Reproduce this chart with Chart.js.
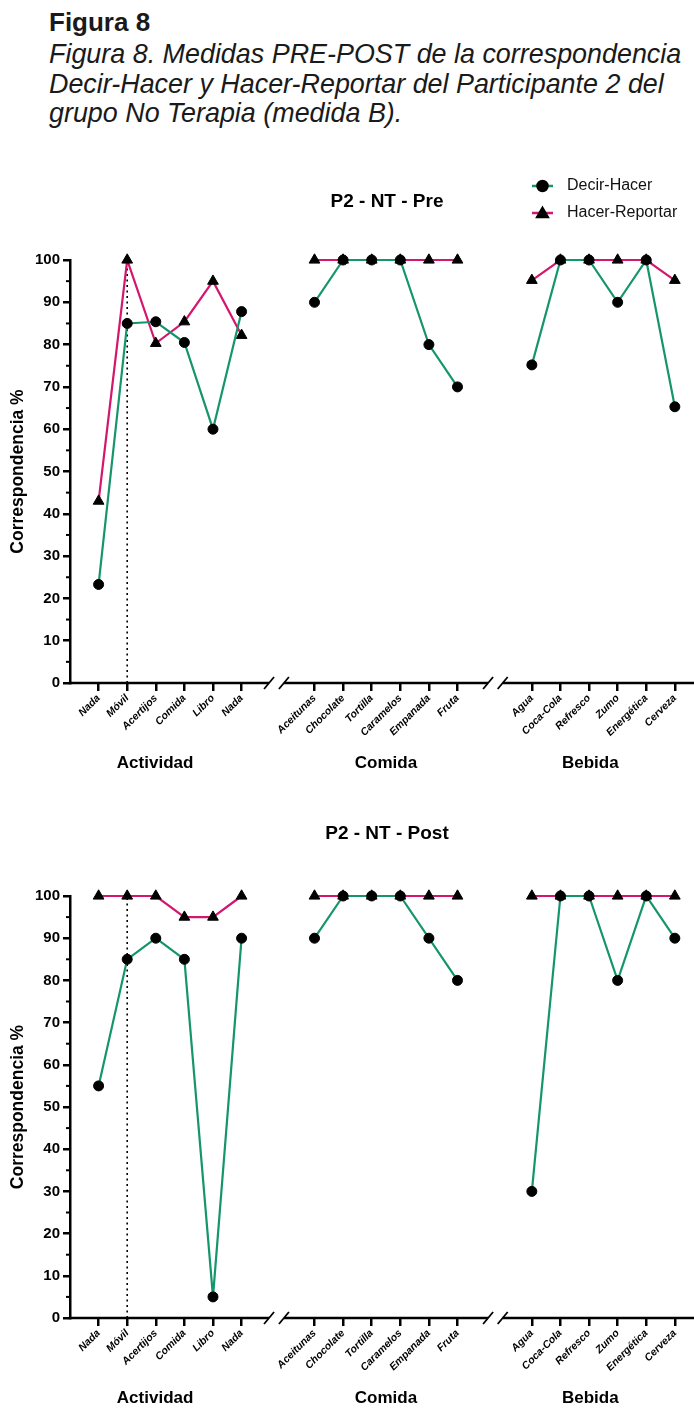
<!DOCTYPE html>
<html>
<head>
<meta charset="utf-8">
<script src="https://cdn.jsdelivr.net/npm/chart.js@4.4.1/dist/chart.umd.min.js"></script>
<style>
  body { margin: 0; background: #fff; width: 694px; height: 1409px; position: relative; overflow: hidden;
         font-family: "Liberation Sans", Arial, sans-serif; color: #1a1a1a; }
  #fig { position: absolute; left: 49px; top: 8px; font-weight: bold; font-size: 26px; line-height: 28px; }
  #cap { position: absolute; left: 49px; top: 40px; font-style: italic; font-size: 26.9px; line-height: 29.5px; white-space: nowrap; }
  canvas { position: absolute; left: 0; }
</style>
</head>
<body>
<div id="fig">Figura 8</div>
<div id="cap">Figura 8. Medidas PRE-POST de la correspondencia<br>Decir-Hacer y Hacer-Reportar del Participante 2 del<br>grupo No Terapia (medida B).</div>
<canvas id="pre" width="694" height="650" style="top:140px"></canvas>
<canvas id="post" width="694" height="619" style="top:790px"></canvas>

<script>
// categorias de cada grupo
const grupos = ['Actividad', 'Comida', 'Bebida'];
const actividad = ['Nada', 'Móvil', 'Acertijos', 'Comida', 'Libro', 'Nada'];
const comida = ['Aceitunas', 'Chocolate', 'Tortilla', 'Caramelos', 'Empanada', 'Fruta'];
const bebida = ['Agua', 'Coca-Cola', 'Refresco', 'Zumo', 'Energética', 'Cerveza'];
const categorias = actividad.concat(comida, bebida);

// valores (%)
const preDecir    = [23.3, 85, 85.4, 80.5, 60, 87.8,   90, 100, 100, 100, 80, 70,   75.2, 100, 100, 90, 100, 65.3];
const preReportar = [43, 100, 80.3, 85.4, 95, 82.2,    100, 100, 100, 100, 100, 100, 95.2, 100, 100, 100, 100, 95.2];
const postDecir    = [55, 85, 90, 85, 5, 90,           90, 100, 100, 100, 90, 80,   30, 100, 100, 80, 100, 90];
const postReportar = [100, 100, 100, 95, 95, 100,      100, 100, 100, 100, 100, 100, 100, 100, 100, 100, 100, 100];
const yTicks = [0, 10, 20, 30, 40, 50, 60, 70, 80, 90, 100];
const cambioFase = 'Móvil'; // linea punteada

const VERDE = '#15956c';
const ROSA = '#d3166e';
const FONT = '"Liberation Sans", Arial, sans-serif';

// inicio de cada grupo en el eje x (huecos para los cortes)
const inicioGrupo = [0, 7.55, 15.15];
const cortes = [[5.96, 6.48], [13.62, 14.13]];
const xPos = i => inicioGrupo[Math.floor(i / 6)] + i % 6;

function puntos(valores) {
  const pts = [];
  valores.forEach((v, i) => {
    if (i > 0 && i % 6 === 0) pts.push({ x: xPos(i) - 1.3, y: null });
    pts.push({ x: xPos(i), y: v });
  });
  return pts;
}

const panelPlugin = {
  id: 'panel',
  afterDraw(chart, args, opts) {
    const ctx = chart.ctx;
    const xs = chart.scales.x, ys = chart.scales.y;
    const area = chart.chartArea;
    const yb = area.bottom;
    ctx.save();
    ctx.strokeStyle = '#000';
    ctx.lineWidth = 2.5;
    // eje x en segmentos
    const limites = [area.left - 1.25].concat(...cortes.map(c => [xs.getPixelForValue(c[0]), xs.getPixelForValue(c[1])]), [area.right]);
    for (let k = 0; k < limites.length; k += 2) {
      ctx.beginPath(); ctx.moveTo(limites[k], yb); ctx.lineTo(limites[k + 1], yb); ctx.stroke();
    }
    ctx.lineWidth = 1.8;
    cortes.flat().forEach(c => {
      const px = xs.getPixelForValue(c);
      ctx.beginPath(); ctx.moveTo(px - 5, yb + 6); ctx.lineTo(px + 5, yb - 6); ctx.stroke();
    });
    // ticks menores del eje y
    ctx.lineWidth = 2;
    for (let v = 5; v < 100; v += 10) {
      const py = ys.getPixelForValue(v);
      ctx.beginPath(); ctx.moveTo(area.left - 4, py); ctx.lineTo(area.left, py); ctx.stroke();
    }
    // nombres de grupo
    ctx.fillStyle = '#000';
    ctx.textAlign = 'center';
    ctx.textBaseline = 'middle';
    ctx.font = 'bold 17px ' + FONT;
    const ajuste = [-15, 0, -13];
    grupos.forEach((g, k) => {
      const centro = xs.getPixelForValue(inicioGrupo[k] + 2.5) + ajuste[k];
      ctx.fillText(g, centro, yb + 80);
    });
    // titulo del panel
    ctx.font = 'bold 19px ' + FONT;
    ctx.fillText(opts.titulo, (area.left + area.right) / 2 + 5, area.top - opts.sepTitulo);
    // leyenda
    if (opts.leyenda) {
      const filas = [['Decir-Hacer', VERDE, 'circle', 5], ['Hacer-Reportar', ROSA, 'triangle', 6]];
      filas.forEach((f, k) => {
        const y = 46 + k * 27;
        ctx.strokeStyle = f[1]; ctx.lineWidth = 2.5;
        ctx.beginPath(); ctx.moveTo(532, y); ctx.lineTo(553, y); ctx.stroke();
        ctx.fillStyle = '#000'; ctx.strokeStyle = '#000';
        Chart.helpers.drawPoint(ctx, { pointStyle: f[2], radius: f[3], rotation: 0, borderWidth: 1 }, 542.5, y + (f[2] === 'triangle' ? 1 : 0));
        ctx.textAlign = 'left';
        ctx.font = '16px ' + FONT;
        ctx.fillStyle = '#111';
        ctx.fillText(f[0], 567, y);
      });
    }
    ctx.restore();
  }
};

function panel(id, decir, reportar, titulo, padTop, altoX, sepTitulo, leyenda) {
  const xFase = xPos(categorias.indexOf(cambioFase));
  return new Chart(document.getElementById(id), {
    type: 'line',
    data: {
      datasets: [
        { label: 'Decir-Hacer', data: puntos(decir), borderColor: VERDE, borderWidth: 2.2,
          pointStyle: 'circle', pointRadius: 5, pointBackgroundColor: '#000', pointBorderColor: '#000', pointBorderWidth: 1, clip: false },
        { label: 'Hacer-Reportar', data: puntos(reportar), borderColor: ROSA, borderWidth: 2.2,
          pointStyle: 'triangle', pointRadius: 6.2, pointBackgroundColor: '#000', pointBorderColor: '#000', pointBorderWidth: 1, clip: false },
        { label: 'fase', data: [{ x: xFase, y: 0 }, { x: xFase, y: 100 }], borderColor: '#000',
          borderWidth: 1.6, borderDash: [2, 3.5], pointRadius: 0, clip: false }
      ]
    },
    options: {
      responsive: false,
      animation: false,
      spanGaps: false,
      layout: { autoPadding: false, padding: { top: padTop, right: 0, bottom: 0, left: 0 } },
      plugins: {
        legend: { display: false },
        tooltip: { enabled: false },
        panel: { titulo: titulo, sepTitulo: sepTitulo, leyenda: leyenda }
      },
      scales: {
        x: {
          type: 'linear', min: -1, max: 20.82,
          afterFit: s => { s.height = altoX; s.paddingLeft = 0; s.paddingRight = 0; },
          afterBuildTicks: s => { s.ticks = categorias.map((c, i) => ({ value: xPos(i) })); },
          ticks: {
            autoSkip: false, minRotation: 45, maxRotation: 45, padding: 1, color: '#000',
            font: { family: FONT, size: 10.5, style: 'italic', weight: 'bold' },
            callback: (v, i) => categorias[i]
          },
          grid: { drawOnChartArea: false, tickLength: 8, lineWidth: 2.5, color: '#000' },
          border: { display: false }
        },
        y: {
          min: 0, max: 100,
          afterFit: s => { s.width = 70; },
          afterBuildTicks: s => { s.ticks = yTicks.map(v => ({ value: v })); },
          ticks: { color: '#000', padding: 3, font: { family: FONT, size: 15, weight: 'bold' } },
          grid: { drawOnChartArea: false, tickLength: 7, lineWidth: 2.5, color: '#000' },
          border: { width: 2.5, color: '#000' },
          title: { display: true, text: 'Correspondencia %', color: '#000', padding: { top: 8 },
                   font: { family: FONT, size: 17.5, weight: 'bold' } }
        }
      }
    },
    plugins: [panelPlugin]
  });
}

panel('pre', preDecir, preReportar, 'P2 - NT - Pre', 120, 107, 58, true);
panel('post', postDecir, postReportar, 'P2 - NT - Post', 106, 91, 62, false);
</script>
</body>
</html>
